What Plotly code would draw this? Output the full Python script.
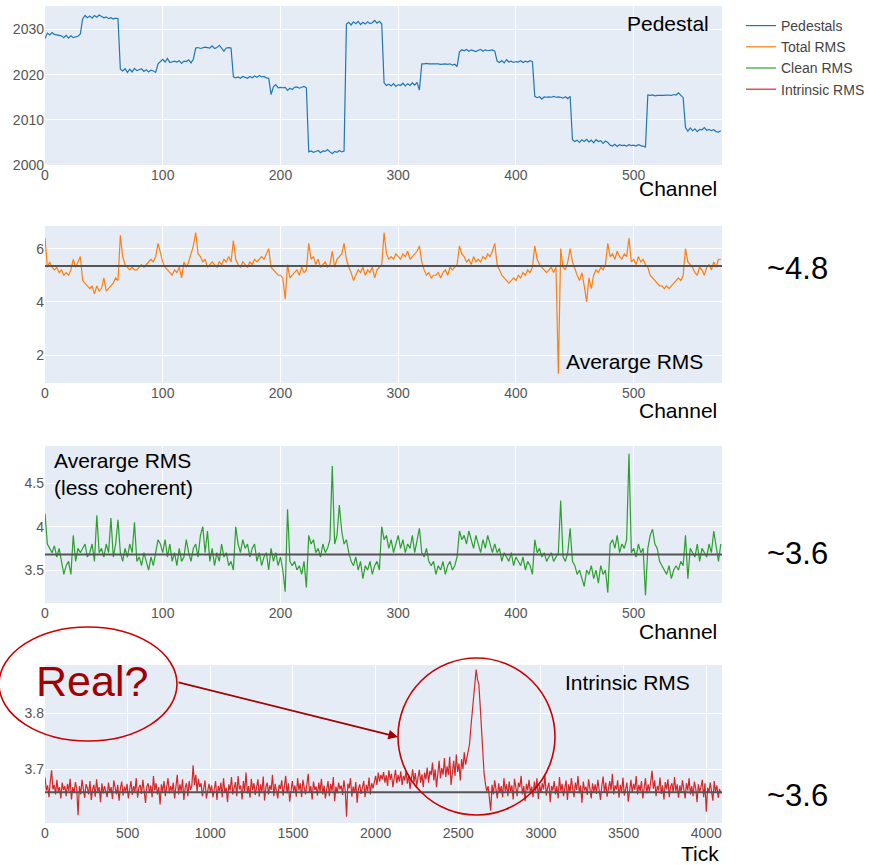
import plotly.graph_objects as go

W, H = 871, 865

# ---------------- data ----------------
channel_step = 2
pedestals = [
    2028.0, 2029.2, 2028.8, 2029.3, 2028.9, 2028.8, 2028.7, 2028.6, 2028.2, 2028.7, 2028.1, 2028.6, 2028.2, 2028.4, 2028.5, 2029.0,
    2032.4, 2033.1, 2032.6, 2033.0, 2032.5, 2033.1, 2032.7, 2033.2, 2032.9, 2032.6, 2032.8, 2032.4, 2032.6, 2032.3, 2032.5, 2032.4,
    2021.2, 2020.8, 2021.3, 2020.5, 2021.2, 2020.6, 2021.4, 2020.9, 2021.1, 2021.3, 2020.7, 2021.1, 2020.6, 2021.0, 2020.8, 2020.5,
    2022.4, 2022.9, 2023.4, 2022.8, 2023.6, 2022.7, 2022.9, 2023.0, 2022.8, 2023.1, 2022.5, 2023.0, 2022.9, 2023.3, 2022.6, 2023.4,
    2025.9, 2026.0, 2025.8, 2025.9, 2026.1, 2026.0, 2025.9, 2026.4, 2025.8, 2026.0, 2026.5, 2025.9, 2025.2, 2025.9, 2026.0, 2025.9,
    2019.5, 2019.3, 2019.5, 2019.2, 2019.6, 2019.4, 2019.2, 2019.6, 2019.3, 2019.7, 2019.4, 2019.8, 2019.5, 2019.6, 2019.3, 2019.2,
    2015.6, 2017.3, 2017.8, 2017.1, 2017.2, 2017.1, 2017.2, 2016.5, 2017.0, 2016.7, 2017.2, 2017.3, 2017.0, 2017.2, 2017.4, 2017.1,
    2002.9, 2003.1, 2002.8, 2003.0, 2003.2, 2002.7, 2003.1, 2003.0, 2003.4, 2002.9, 2002.5, 2003.0, 2002.8, 2003.2, 2002.9, 2003.1,
    2031.2, 2031.6, 2031.0, 2031.7, 2031.3, 2031.8, 2031.1, 2031.6, 2031.2, 2031.7, 2031.3, 2031.5, 2032.0, 2031.4, 2031.8, 2031.2,
    2018.2, 2017.6, 2017.9, 2017.5, 2018.0, 2017.4, 2017.8, 2017.6, 2018.1, 2017.5, 2018.0, 2017.6, 2018.2, 2017.7, 2018.3, 2016.6,
    2022.4, 2022.4, 2022.5, 2022.4, 2022.4, 2022.5, 2022.4, 2022.4, 2022.3, 2022.4, 2022.4, 2022.3, 2022.4, 2022.1, 2022.3, 2021.8,
    2025.0, 2025.5, 2025.3, 2025.6, 2025.2, 2025.5, 2025.3, 2025.1, 2025.4, 2025.6, 2025.2, 2025.5, 2025.3, 2025.4, 2025.5, 2025.2,
    2023.0, 2022.7, 2023.1, 2022.6, 2023.3, 2022.8, 2023.0, 2022.7, 2022.9, 2022.8, 2023.1, 2022.7, 2023.0, 2022.8, 2023.1, 2022.9,
    2015.2, 2014.9, 2015.1, 2014.6, 2015.1, 2015.0, 2015.1, 2015.0, 2015.2, 2015.0, 2015.1, 2015.0, 2014.8, 2015.1, 2014.7, 2015.2,
    2005.6, 2005.2, 2005.5, 2005.0, 2005.6, 2005.2, 2005.7, 2005.1, 2005.5, 2004.9, 2005.6, 2005.2, 2005.4, 2004.8, 2005.3, 2005.0,
    2004.4, 2004.2, 2004.6, 2004.1, 2004.5, 2004.3, 2004.4, 2004.2, 2004.5, 2004.3, 2004.4, 2004.2, 2004.5, 2004.3, 2004.1, 2004.0,
    2015.5, 2015.4, 2015.5, 2015.3, 2015.4, 2015.4, 2015.3, 2015.4, 2015.5, 2015.4, 2015.4, 2015.6, 2015.5, 2016.0, 2015.4, 2014.9,
    2008.3, 2007.5, 2008.2, 2007.6, 2008.0, 2007.4, 2007.9, 2007.8, 2008.3, 2007.7, 2007.9, 2007.6, 2007.8, 2007.4, 2007.3, 2007.6,
]

total_rms = [
    6.4, 5.3, 5.5, 5.3, 5.2, 5.3, 5.1, 5.2, 5.0, 5.1, 5.0, 5.2, 5.6, 5.3, 5.5, 5.7,
    4.8, 4.7, 4.6, 4.5, 4.6, 4.3, 4.6, 4.4, 4.5, 4.9, 4.4, 4.5, 4.6, 4.7, 4.9, 4.8,
    6.5, 5.7, 5.4, 5.3, 5.2, 5.3, 5.2, 5.2, 5.3, 5.4, 5.3, 5.4, 5.5, 5.6, 5.5, 5.7,
    6.2, 5.8, 5.5, 5.3, 5.2, 5.1, 5.0, 5.2, 5.1, 5.3, 4.9, 5.5, 5.3, 5.5, 5.8, 6.1,
    6.6, 5.8, 5.7, 5.5, 5.6, 5.3, 5.4, 5.5, 5.4, 5.3, 5.5, 5.4, 5.6, 5.5, 5.7, 5.5,
    6.3, 5.6, 5.4, 5.3, 5.5, 5.4, 5.3, 5.5, 5.4, 5.6, 5.5, 5.6, 5.7, 5.6, 5.8, 6.0,
    5.3, 5.2, 5.1, 5.0, 5.0, 4.9, 4.1, 5.4, 4.9, 5.0, 5.1, 5.2, 5.0, 5.3, 5.1, 5.2,
    6.2, 5.6, 5.7, 5.4, 5.6, 5.3, 5.4, 5.5, 5.3, 5.4, 5.9, 5.3, 5.6, 5.7, 5.8, 6.2,
    5.6, 5.3, 5.1, 4.8, 5.0, 5.2, 5.1, 5.3, 5.0, 5.2, 5.1, 5.3, 4.9, 5.2, 5.3, 5.4,
    6.6, 5.8, 5.6, 5.7, 5.6, 5.8, 5.7, 5.6, 5.8, 5.7, 5.9, 5.6, 5.7, 5.8, 5.9, 6.1,
    5.5, 5.2, 5.0, 5.1, 4.9, 5.0, 5.0, 5.1, 4.9, 5.1, 5.2, 5.0, 5.3, 5.2, 5.3, 5.4,
    6.1, 5.8, 5.7, 5.5, 5.6, 5.4, 5.7, 5.5, 5.6, 5.5, 5.7, 5.6, 5.8, 5.7, 5.9, 6.2,
    5.4, 5.2, 5.0, 4.9, 4.8, 4.7, 4.8, 4.9, 4.8, 5.0, 4.9, 5.1, 5.0, 5.2, 5.1, 5.3,
    6.1, 5.6, 5.4, 5.3, 5.2, 5.1, 5.2, 5.3, 5.1, 5.3, 1.3, 6.0, 5.3, 5.2, 5.5, 6.0,
    5.5, 5.2, 5.0, 4.8, 5.1, 4.6, 4.0, 4.9, 4.5, 5.0, 5.2, 5.1, 5.3, 5.2, 5.4, 6.2,
    5.7, 5.8, 5.6, 5.9, 5.7, 5.6, 5.8, 5.7, 6.4, 5.5, 5.6, 5.4, 5.7, 5.5, 5.6, 5.4,
    5.3, 5.0, 4.9, 4.8, 4.7, 4.6, 4.6, 4.5, 4.6, 4.5, 4.6, 4.7, 4.8, 4.9, 4.8, 5.0,
    6.0, 5.5, 5.4, 5.3, 5.1, 5.0, 5.3, 5.2, 5.0, 5.3, 5.4, 5.2, 5.5, 5.3, 5.6, 5.6,
]

clean_rms = [
    4.15, 3.8, 3.75, 3.7, 3.78, 3.65, 3.75, 3.6, 3.45, 3.55, 3.6, 3.45, 3.9, 3.6, 3.75, 3.7,
    3.75, 3.8, 3.65, 3.7, 3.8, 3.6, 4.13, 3.7, 3.75, 3.65, 3.8, 3.7, 4.1, 3.65, 3.8, 4.08,
    3.7, 3.6, 3.75, 3.65, 3.8, 3.7, 4.05, 3.6, 3.65, 3.55, 3.7, 3.6, 3.5, 3.65, 3.55, 3.7,
    3.85, 3.8, 3.7, 3.85, 3.65, 3.8, 3.6, 3.7, 3.55, 3.75, 3.6, 3.65, 3.85, 3.7, 3.6, 3.75,
    3.8, 3.65, 3.9, 4.0, 3.7, 3.95, 3.6, 3.75, 3.55, 3.7, 3.6, 3.8, 3.65, 3.7, 3.55, 3.6,
    3.5, 4.0, 3.8, 3.7, 3.85, 3.75, 3.8, 3.65, 3.75, 3.8, 3.6, 3.7, 3.55, 3.65, 3.7, 3.5,
    3.75, 3.6, 3.7, 3.55, 3.65, 3.5, 3.25, 4.2, 3.6, 3.55, 3.6, 3.5, 3.55, 3.45, 3.6, 3.3,
    3.9, 3.8, 3.85, 3.7, 3.75, 3.65, 3.8, 3.7, 3.75, 3.85, 4.7, 3.8, 3.9, 4.25, 3.95, 3.8,
    3.85, 3.7, 3.6, 3.55, 3.65, 3.5, 3.6, 3.4, 3.55, 3.5, 3.6, 3.45, 3.55, 3.6, 3.5, 4.0,
    3.85, 3.9, 3.75, 3.85, 3.7, 3.8, 3.9, 3.75, 3.85, 3.7, 3.8, 3.75, 3.9, 3.7, 3.85, 3.98,
    3.7, 3.65, 3.75, 3.6, 3.55, 3.6, 3.45, 3.55, 3.5, 3.6, 3.45, 3.55, 3.6, 3.5, 3.55, 3.65,
    3.95, 3.85, 3.9, 3.8, 3.95, 3.85, 3.75, 3.9, 3.8, 3.7, 3.85, 3.75, 3.9, 3.8, 3.7, 3.8,
    3.7, 3.75, 3.6, 3.7, 3.65, 3.6, 3.7, 3.55, 3.65, 3.6, 3.55, 3.65, 3.5, 3.6, 3.55, 3.45,
    3.85, 3.7, 3.75, 3.65, 3.7, 3.6, 3.65, 3.7, 3.6, 3.65, 3.7, 4.3, 3.65, 3.6, 3.7, 3.98,
    3.6, 3.55, 3.45, 3.5, 3.4, 3.31, 3.5, 3.45, 3.55, 3.4, 3.5, 3.35, 3.55, 3.45, 3.5, 3.24,
    3.8, 3.85, 3.75, 3.9, 3.7, 3.8, 3.75, 3.85, 4.84, 3.7, 3.75, 3.65, 3.8, 3.7, 3.75, 3.21,
    3.75, 3.9, 3.97, 3.8, 3.75, 3.6, 3.55, 3.5, 3.45, 3.55, 3.4, 3.5, 3.55, 3.5, 3.6, 3.55,
    3.9, 3.4, 3.75, 3.7, 3.65, 3.8, 3.6, 3.75, 3.7, 3.65, 3.8, 3.7, 3.95, 3.75, 3.6, 3.8,
]

tick_step = 8
intrinsic_rms = [
    3.685, 3.662, 3.671, 3.650, 3.678, 3.698, 3.664, 3.672, 3.655, 3.681, 3.660, 3.668, 3.648, 3.676, 3.663, 3.670,
    3.652, 3.674, 3.661, 3.683, 3.646, 3.668, 3.658, 3.677, 3.665, 3.618, 3.670, 3.655, 3.681, 3.662, 3.649, 3.673,
    3.667, 3.655, 3.679, 3.645, 3.664, 3.672, 3.651, 3.682, 3.660, 3.668, 3.641, 3.675, 3.657, 3.670, 3.662, 3.650,
    3.676, 3.659, 3.668, 3.647, 3.680, 3.663, 3.655, 3.672, 3.644, 3.666, 3.678, 3.653, 3.669, 3.660, 3.674, 3.648,
    3.665, 3.679, 3.654, 3.670, 3.660, 3.684, 3.649, 3.667, 3.672, 3.656, 3.681, 3.662, 3.640, 3.669, 3.675, 3.658,
    3.671, 3.650, 3.688, 3.662, 3.675, 3.655, 3.668, 3.637, 3.673, 3.660, 3.679, 3.652, 3.666, 3.684, 3.657, 3.670,
    3.661, 3.676, 3.648, 3.669, 3.690, 3.655, 3.673, 3.660, 3.682, 3.645, 3.667, 3.675, 3.652, 3.679, 3.663, 3.670,
    3.707, 3.672, 3.690, 3.660, 3.683, 3.668, 3.675, 3.652, 3.670, 3.680, 3.648, 3.666, 3.674, 3.659, 3.671, 3.650,
    3.668, 3.679, 3.645, 3.670, 3.661, 3.676, 3.650, 3.684, 3.658, 3.667, 3.641, 3.673, 3.662, 3.686, 3.655, 3.670,
    3.677, 3.652, 3.688, 3.664, 3.671, 3.646, 3.679, 3.660, 3.694, 3.657, 3.670, 3.649, 3.683, 3.662, 3.675, 3.654,
    3.669, 3.682, 3.651, 3.673, 3.660, 3.687, 3.644, 3.668, 3.676, 3.655, 3.671, 3.663, 3.690, 3.652, 3.674, 3.661,
    3.648, 3.672, 3.665, 3.680, 3.653, 3.669, 3.688, 3.657, 3.675, 3.642, 3.666, 3.679, 3.660, 3.671, 3.651, 3.684,
    3.662, 3.675, 3.650, 3.681, 3.667, 3.655, 3.673, 3.692, 3.658, 3.670, 3.646, 3.678, 3.663, 3.669, 3.653, 3.676,
    3.660, 3.683, 3.655, 3.671, 3.648, 3.667, 3.679, 3.652, 3.674, 3.661, 3.686, 3.643, 3.669, 3.657, 3.676, 3.664,
    3.671, 3.654, 3.680, 3.662, 3.615, 3.674, 3.666, 3.684, 3.651, 3.669, 3.658, 3.677, 3.640, 3.665, 3.673, 3.656,
    3.668, 3.679, 3.650, 3.672, 3.661, 3.685, 3.655, 3.675, 3.666, 3.680, 3.688, 3.672, 3.694, 3.678, 3.690, 3.682,
    3.695, 3.676, 3.689, 3.670, 3.698, 3.681, 3.692, 3.668, 3.686, 3.699, 3.675, 3.690, 3.678, 3.696, 3.672, 3.688,
    3.680, 3.697, 3.674, 3.690, 3.665, 3.686, 3.700, 3.677, 3.693, 3.670, 3.688, 3.699, 3.676, 3.691, 3.668, 3.694,
    3.682, 3.703, 3.676, 3.697, 3.690, 3.712, 3.680, 3.700, 3.668, 3.695, 3.715, 3.684, 3.702, 3.690, 3.720, 3.686,
    3.705, 3.690, 3.722, 3.672, 3.700, 3.715, 3.688, 3.726, 3.695, 3.710, 3.680, 3.718, 3.700, 3.730, 3.708, 3.722,
    3.735, 3.745, 3.775, 3.800, 3.838, 3.862, 3.878, 3.860, 3.852, 3.815, 3.765, 3.722, 3.692, 3.674, 3.660, 3.670,
    3.645, 3.626, 3.672, 3.655, 3.680, 3.662, 3.648, 3.675, 3.658, 3.670, 3.650, 3.684, 3.661, 3.673, 3.652, 3.678,
    3.660, 3.671, 3.646, 3.683, 3.664, 3.652, 3.676, 3.668, 3.688, 3.655, 3.670, 3.643, 3.674, 3.662, 3.681, 3.657,
    3.669, 3.650, 3.678, 3.661, 3.684, 3.647, 3.672, 3.658, 3.675, 3.664, 3.690, 3.653, 3.667, 3.676, 3.641, 3.670,
    3.662, 3.679, 3.655, 3.670, 3.648, 3.686, 3.661, 3.674, 3.652, 3.668, 3.680, 3.645, 3.673, 3.659, 3.684, 3.665,
    3.650, 3.676, 3.663, 3.688, 3.657, 3.671, 3.640, 3.678, 3.662, 3.669, 3.654, 3.682, 3.667, 3.648, 3.675, 3.660,
    3.673, 3.656, 3.681, 3.664, 3.645, 3.670, 3.687, 3.658, 3.676, 3.651, 3.668, 3.679, 3.662, 3.692, 3.655, 3.671,
    3.664, 3.680, 3.649, 3.672, 3.660, 3.685, 3.653, 3.669, 3.676, 3.642, 3.667, 3.681, 3.658, 3.674, 3.663, 3.688,
    3.655, 3.672, 3.661, 3.679, 3.648, 3.668, 3.684, 3.657, 3.673, 3.660, 3.676, 3.697, 3.665, 3.680, 3.652, 3.670,
    3.662, 3.685, 3.656, 3.671, 3.646, 3.677, 3.664, 3.682, 3.650, 3.669, 3.675, 3.658, 3.686, 3.661, 3.673, 3.649,
    3.671, 3.659, 3.680, 3.664, 3.648, 3.675, 3.662, 3.684, 3.655, 3.670, 3.652, 3.678, 3.666, 3.641, 3.673, 3.660,
    3.668, 3.681, 3.650, 3.675, 3.624, 3.667, 3.658, 3.676, 3.662, 3.644, 3.679, 3.660, 3.671, 3.649, 3.665, 3.657,
]

mean_total = 5.35
mean_clean = 3.68
mean_intrinsic = 3.659
n_channels = 576
n_ticks = 4096

channels = list(range(0, channel_step * len(pedestals), channel_step))
ticks = list(range(0, tick_step * len(intrinsic_rms), tick_step))

# ---------------- figure ----------------
def px_x(p):
    return p / W

def px_y(p):
    return 1 - p / H

BLUE, ORANGE, GREEN, RED = "#1f77b4", "#ff7f0e", "#2ca02c", "#d62728"
MEAN_C = "#555555"
LW = 1.2

fig = go.Figure()
fig.add_trace(go.Scatter(x=channels, y=pedestals, mode="lines", name="Pedestals",
                         line=dict(color=BLUE, width=LW), xaxis="x", yaxis="y"))
fig.add_trace(go.Scatter(x=channels, y=total_rms, mode="lines", name="Total RMS",
                         line=dict(color=ORANGE, width=LW), xaxis="x2", yaxis="y2"))
fig.add_trace(go.Scatter(x=[0, n_channels - 1], y=[mean_total, mean_total], mode="lines",
                         line=dict(color=MEAN_C, width=2), showlegend=False, xaxis="x2", yaxis="y2"))
fig.add_trace(go.Scatter(x=channels, y=clean_rms, mode="lines", name="Clean RMS",
                         line=dict(color=GREEN, width=LW), xaxis="x3", yaxis="y3"))
fig.add_trace(go.Scatter(x=[0, n_channels - 1], y=[mean_clean, mean_clean], mode="lines",
                         line=dict(color=MEAN_C, width=2), showlegend=False, xaxis="x3", yaxis="y3"))
fig.add_trace(go.Scatter(x=ticks, y=intrinsic_rms, mode="lines", name="Intrinsic RMS",
                         line=dict(color=RED, width=LW), xaxis="x4", yaxis="y4"))
fig.add_trace(go.Scatter(x=[0, n_ticks - 1], y=[mean_intrinsic, mean_intrinsic], mode="lines",
                         line=dict(color=MEAN_C, width=2), showlegend=False, xaxis="x4", yaxis="y4"))

tickfont = dict(family="Liberation Sans, Arial", size=14, color="#555555")
xdom = [px_x(45), px_x(722)]
panels = [(6, 165), (226, 383), (446, 603), (665, 823)]

def xa(anchor, rng, dtick):
    return dict(domain=xdom, anchor=anchor, range=rng, dtick=dtick, tickfont=tickfont,
                showgrid=True, gridcolor="white", zeroline=False, showline=False, ticks="",
                automargin=False)

def ya(anchor, dom, rng, dtick):
    return dict(domain=[px_y(dom[1]), px_y(dom[0])], anchor=anchor, range=rng, dtick=dtick,
                tickfont=tickfont, showgrid=True, gridcolor="white", zeroline=False, ticks="",
                automargin=False)

layout = dict(
    width=W, height=H, margin=dict(l=0, r=0, t=0, b=0, autoexpand=False),
    paper_bgcolor="white", plot_bgcolor="#E5ECF6",
    font=dict(family="Liberation Sans, Arial", color="#444"),
    xaxis=xa("y", [0, n_channels - 1], 100),
    yaxis=ya("x", panels[0], [2000, 2035.2], 10),
    xaxis2=xa("y2", [0, n_channels - 1], 100),
    yaxis2=ya("x2", panels[1], [0.95, 6.85], 2),
    xaxis3=xa("y3", [0, n_channels - 1], 100),
    yaxis3=ya("x3", panels[2], [3.12, 4.93], 0.5),
    xaxis4=xa("y4", [0, n_ticks - 1], 500),
    yaxis4=ya("x4", panels[3], [3.604, 3.886], 0.1),
    legend=dict(x=px_x(741), y=px_y(10), xanchor="left", yanchor="top",
                font=dict(family="Liberation Sans, Arial", size=14, color="#444"),
                bgcolor="rgba(0,0,0,0)", tracegroupgap=0),
    showlegend=True,
)
fig.update_layout(**layout)

BIG = dict(family="Liberation Sans, Arial", size=21, color="black")
HUGE = dict(family="Liberation Sans, Arial", size=31, color="black")
ann = []
def text(x, y, s, font, xanchor="right", yanchor="middle", align="left"):
    ann.append(dict(x=px_x(x), y=px_y(y), xref="paper", yref="paper", text=s, showarrow=False,
                    font=font, xanchor=xanchor, yanchor=yanchor, align=align))

text(711, 24, "Pedestal", BIG)
text(719, 189, "Channel", BIG)
text(705, 361, "Averarge RMS", BIG)
text(719, 410, "Channel", BIG)
text(797, 268, "~4.8", HUGE, xanchor="center")
text(52, 474, "Averarge RMS<br>(less coherent)", BIG, xanchor="left")
text(719, 631, "Channel", BIG)
text(797, 553, "~3.6", HUGE, xanchor="center")
text(692, 682, "Intrinsic RMS", BIG)
text(721, 853, "Tick", BIG)
text(797, 795, "~3.6", HUGE, xanchor="center")
text(92, 681, "Real?", dict(family="Liberation Sans, Arial", size=43, color="#a00000"), xanchor="center")

ann.append(dict(x=px_x(398), y=px_y(737), xref="paper", yref="paper", text="",
                showarrow=True, ax=177 - 398, ay=682 - 737, arrowcolor="#a00000",
                arrowwidth=1.6, arrowhead=2, arrowsize=1.2))
fig.update_layout(annotations=ann)

fig.update_layout(shapes=[
    dict(type="circle", xref="paper", yref="paper", x0=px_x(-1), x1=px_x(177),
         y0=px_y(741), y1=px_y(627), line=dict(color="#cc0000", width=1.6)),
    dict(type="circle", xref="paper", yref="paper", x0=px_x(398), x1=px_x(555),
         y0=px_y(815), y1=px_y(658), line=dict(color="#cc0000", width=1.6)),
])

fig.write_html("out.html")
